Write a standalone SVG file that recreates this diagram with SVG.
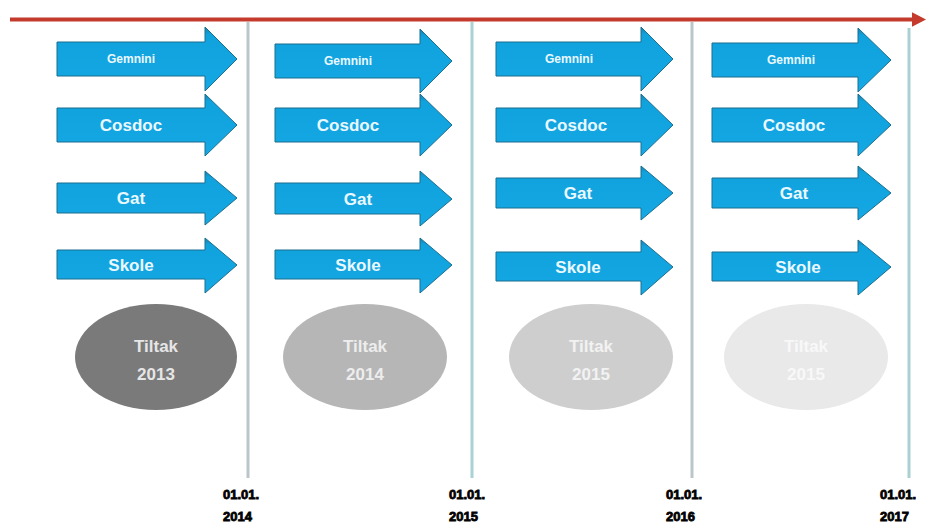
<svg xmlns="http://www.w3.org/2000/svg" width="927" height="528" viewBox="0 0 927 528">
  <style>
    .arrow { fill: url(#arrowFill); stroke: #1b6f8f; stroke-width: 1; }
    .lbl { font-family: "Liberation Sans", Arial, sans-serif; font-weight: bold; fill: #eaf8ff; text-anchor: middle; }
    .small { font-size: 12px; }
    .big { font-size: 17px; }
    .tiltak { font-family: "Liberation Sans", Arial, sans-serif; font-weight: bold; font-size: 17px; text-anchor: middle; }
    .date { font-family: "Liberation Sans", Arial, sans-serif; font-weight: 900; font-size: 13px; fill: #000; stroke: #000; stroke-width: 0.8; }
    .tick { stroke-width: 3; fill: none; }
  </style>
  <defs>
    <linearGradient id="arrowFill" x1="0" y1="0" x2="0" y2="1">
      <stop offset="0" stop-color="#1780ad"/>
      <stop offset="0.12" stop-color="#10a2dd"/>
      <stop offset="1" stop-color="#14a8e4"/>
    </linearGradient>
    <marker id="redHead" markerWidth="4" markerHeight="4" refX="0" refY="2" orient="auto" markerUnits="strokeWidth">
      <path d="M0,0.2 L3.5,2 L0,3.8 Z" fill="#c43a2c"/>
    </marker>
  </defs>

  <rect width="927" height="528" fill="#ffffff"/>

  <!-- timeline and year separators -->
  <g id="connectors">
    <line x1="10" y1="19.5" x2="912" y2="19.5" stroke="#c43a2c" stroke-width="4" marker-end="url(#redHead)"/>
    <line class="tick" x1="248" y1="22" x2="248" y2="478" stroke="#bcc6ca"/>
    <line class="tick" x1="472" y1="22" x2="472" y2="478" stroke="#a9d2d6"/>
    <line class="tick" x1="692" y1="22" x2="692" y2="478" stroke="#bcc6ca"/>
    <line class="tick" x1="909" y1="28" x2="909" y2="478" stroke="#aad0d4"/>
  </g>

  <!-- column 2013 -->
  <g id="gemnini-2013">
    <path class="arrow" d="M57,42 H205 V27 L237,59 L205,91 V76 H57 Z"/>
    <text class="lbl small" x="131" y="63">Gemnini</text>
  </g>
  <g id="cosdoc-2013">
    <path class="arrow" d="M57,108 H205 V94 L237,125 L205,156 V142 H57 Z"/>
    <text class="lbl big" x="131" y="131">Cosdoc</text>
  </g>
  <g id="gat-2013">
    <path class="arrow" d="M57,183 H205 V171 L237,198 L205,225 V213 H57 Z"/>
    <text class="lbl big" x="131" y="204">Gat</text>
  </g>
  <g id="skole-2013">
    <path class="arrow" d="M57,250 H205 V238 L237,265 L205,293 V279 H57 Z"/>
    <text class="lbl big" x="131" y="271">Skole</text>
  </g>
  <g id="tiltak-2013">
    <ellipse cx="156" cy="357" rx="81" ry="53" fill="#7a7a7a"/>
    <text class="tiltak" x="156" y="352" fill="#e6e6e6">Tiltak</text>
    <text class="tiltak" x="156" y="380" fill="#e6e6e6">2013</text>
  </g>

  <!-- column 2014 -->
  <g id="gemnini-2014">
    <path class="arrow" d="M275,44 H420 V29 L452,61 L420,93 V78 H275 Z"/>
    <text class="lbl small" x="348" y="65">Gemnini</text>
  </g>
  <g id="cosdoc-2014">
    <path class="arrow" d="M275,108 H420 V94 L452,125 L420,156 V142 H275 Z"/>
    <text class="lbl big" x="348" y="131">Cosdoc</text>
  </g>
  <g id="gat-2014">
    <path class="arrow" d="M275,183 H420 V171 L452,199 L420,226 V214 H275 Z"/>
    <text class="lbl big" x="358" y="205">Gat</text>
  </g>
  <g id="skole-2014">
    <path class="arrow" d="M275,250 H420 V238 L452,265 L420,293 V279 H275 Z"/>
    <text class="lbl big" x="358" y="271">Skole</text>
  </g>
  <g id="tiltak-2014">
    <ellipse cx="365" cy="357" rx="82" ry="53" fill="#b6b6b6"/>
    <text class="tiltak" x="365" y="352" fill="#ededed">Tiltak</text>
    <text class="tiltak" x="365" y="380" fill="#ededed">2014</text>
  </g>

  <!-- column 2015 -->
  <g id="gemnini-2015">
    <path class="arrow" d="M496,42 H641 V27 L673,59 L641,91 V76 H496 Z"/>
    <text class="lbl small" x="569" y="63">Gemnini</text>
  </g>
  <g id="cosdoc-2015">
    <path class="arrow" d="M496,108 H641 V94 L673,125 L641,156 V142 H496 Z"/>
    <text class="lbl big" x="576" y="131">Cosdoc</text>
  </g>
  <g id="gat-2015">
    <path class="arrow" d="M496,178 H641 V166 L673,193 L641,220 V208 H496 Z"/>
    <text class="lbl big" x="578" y="199">Gat</text>
  </g>
  <g id="skole-2015">
    <path class="arrow" d="M496,252 H641 V240 L673,267 L641,295 V281 H496 Z"/>
    <text class="lbl big" x="578" y="273">Skole</text>
  </g>
  <g id="tiltak-2015">
    <ellipse cx="591" cy="357" rx="82" ry="53" fill="#cecece"/>
    <text class="tiltak" x="591" y="352" fill="#f2f2f2">Tiltak</text>
    <text class="tiltak" x="591" y="380" fill="#f2f2f2">2015</text>
  </g>

  <!-- column 2016 -->
  <g id="gemnini-2016">
    <path class="arrow" d="M712,43 H858 V28 L891,60 L858,92 V77 H712 Z"/>
    <text class="lbl small" x="791" y="64">Gemnini</text>
  </g>
  <g id="cosdoc-2016">
    <path class="arrow" d="M712,108 H858 V94 L891,125 L858,156 V142 H712 Z"/>
    <text class="lbl big" x="794" y="131">Cosdoc</text>
  </g>
  <g id="gat-2016">
    <path class="arrow" d="M712,178 H858 V166 L891,193 L858,220 V208 H712 Z"/>
    <text class="lbl big" x="794" y="199">Gat</text>
  </g>
  <g id="skole-2016">
    <path class="arrow" d="M712,252 H858 V240 L891,267 L858,295 V281 H712 Z"/>
    <text class="lbl big" x="798" y="273">Skole</text>
  </g>
  <g id="tiltak-2016">
    <ellipse cx="806" cy="357" rx="82" ry="53" fill="#e9e9e9"/>
    <text class="tiltak" x="806" y="352" fill="#f8f8f8">Tiltak</text>
    <text class="tiltak" x="806" y="380" fill="#f8f8f8">2015</text>
  </g>

  <!-- dates -->
  <g id="date-2014">
    <text class="date" x="223" y="499">01.01.</text>
    <text class="date" x="223" y="521">2014</text>
  </g>
  <g id="date-2015">
    <text class="date" x="449" y="499">01.01.</text>
    <text class="date" x="449" y="521">2015</text>
  </g>
  <g id="date-2016">
    <text class="date" x="666" y="499">01.01.</text>
    <text class="date" x="666" y="521">2016</text>
  </g>
  <g id="date-2017">
    <text class="date" x="880" y="499">01.01.</text>
    <text class="date" x="880" y="521">2017</text>
  </g>
</svg>
